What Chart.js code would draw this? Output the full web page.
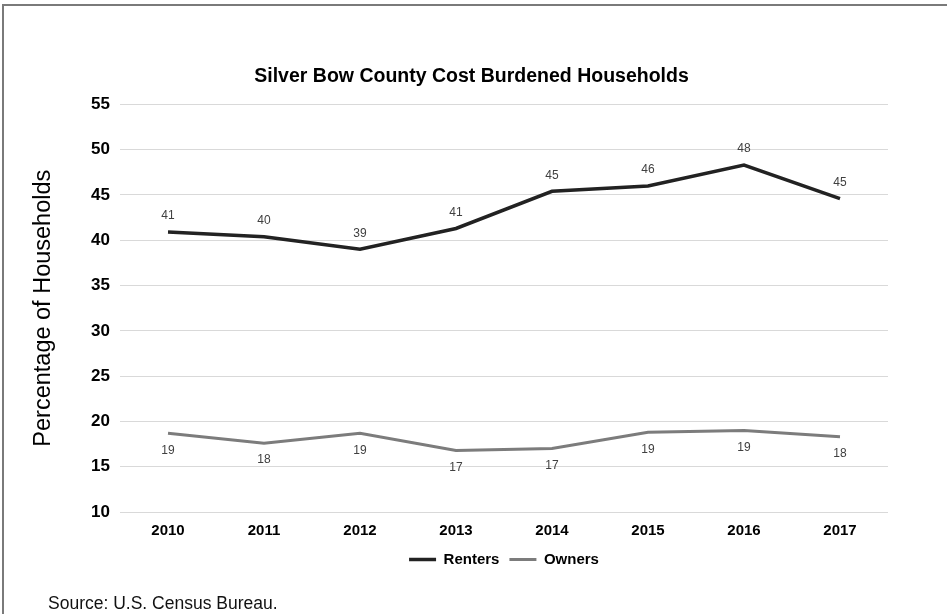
<!DOCTYPE html>
<html>
<head>
<meta charset="utf-8">
<script src="https://cdn.jsdelivr.net/npm/chart.js@4.4.1/dist/chart.umd.min.js"></script>
<style>
  html, body { margin: 0; padding: 0; background: #fff; }
  #wrap { position: relative; width: 947px; height: 614px; overflow: hidden; font-family: "Liberation Sans", Arial, sans-serif; }
  #frame { position: absolute; left: 2px; top: 4px; width: 960px; height: 640px; border-top: 2px solid #7a7a7a; border-left: 2px solid #7a7a7a; }
  #source { position: absolute; left: 48px; top: 593px; font-size: 17.5px; color: #111; }
</style>
</head>
<body>
<div id="wrap">
  <div id="frame"></div>
  <canvas id="chart"></canvas>
  <div id="source">Source: U.S. Census Bureau.</div>
</div>
<script>
const years = ['2010', '2011', '2012', '2013', '2014', '2015', '2016', '2017'];
const renters = [40.9, 40.4, 39.0, 41.3, 45.4, 46.0, 48.3, 44.6];
const owners = [18.7, 17.6, 18.7, 16.8, 17.0, 18.8, 19.0, 18.3];
const yTicks = { min: 10, max: 55, step: 5 };

const FONT = '"Liberation Sans", Arial, sans-serif';

// draws rounded value labels above / below each point
const valueLabels = {
    id: 'valueLabels',
    afterDatasetsDraw(chart, args, opts) {
        const ctx = chart.ctx;
        ctx.save();
        ctx.font = '12px ' + FONT;
        ctx.fillStyle = '#404040';
        ctx.textAlign = 'center';
        ctx.textBaseline = 'middle';
        chart.data.datasets.forEach((ds, i) => {
            const meta = chart.getDatasetMeta(i);
            const off = opts.offsets[i];
            meta.data.forEach((pt, j) => {
                ctx.fillText(Math.round(ds.data[j]), pt.x, pt.y + off);
            });
        });
        ctx.restore();
    }
};

new Chart(document.getElementById('chart'), {
    type: 'line',
    data: {
        labels: years,
        datasets: [
            { label: 'Renters', data: renters, borderColor: '#222', backgroundColor: '#222', borderWidth: 3.5, pointRadius: 0, tension: 0, fill: false },
            { label: 'Owners', data: owners, borderColor: '#7c7c7c', backgroundColor: '#7c7c7c', borderWidth: 3, pointRadius: 0, tension: 0, fill: false }
        ]
    },
    plugins: [valueLabels],
    options: {
        responsive: true,
        maintainAspectRatio: false,
        animation: false,
        layout: { padding: { left: 55, right: 59, top: 0, bottom: 37 } },
        plugins: {
            title: {
                display: true,
                text: 'Silver Bow County Cost Burdened Households',
                font: { family: FONT, size: 19.5, weight: 'bold' },
                color: '#000',
                padding: { top: 65, bottom: 16 }
            },
            legend: {
                position: 'bottom',
                fullSize: false,
                labels: {
                    usePointStyle: true,
                    pointStyle: 'line',
                    pointStyleWidth: 27,
                    font: { family: FONT, size: 15, weight: 'bold' },
                    color: '#000',
                    padding: 10
                }
            },
            tooltip: { enabled: false },
            valueLabels: { offsets: [-16, 17] }
        },
        scales: {
            x: {
                offset: true,
                grid: { display: false, drawTicks: false },
                border: { display: false },
                ticks: { font: { family: FONT, size: 15, weight: 'bold' }, color: '#000', padding: 10 },
                afterFit(scale) { scale.height = 30; }
            },
            y: {
                min: yTicks.min,
                max: yTicks.max,
                grid: { color: '#d9d9d9', drawTicks: false },
                border: { display: false },
                ticks: { stepSize: yTicks.step, font: { family: FONT, size: 17, weight: 'bold' }, color: '#000', padding: 10 },
                title: {
                    display: true,
                    text: 'Percentage of Households',
                    font: { family: FONT, size: 23.5 },
                    color: '#000',
                    padding: { top: -26, bottom: 0 }
                },
                afterFit(scale) { scale.width = 65; }
            }
        }
    }
});
</script>
</body>
</html>
